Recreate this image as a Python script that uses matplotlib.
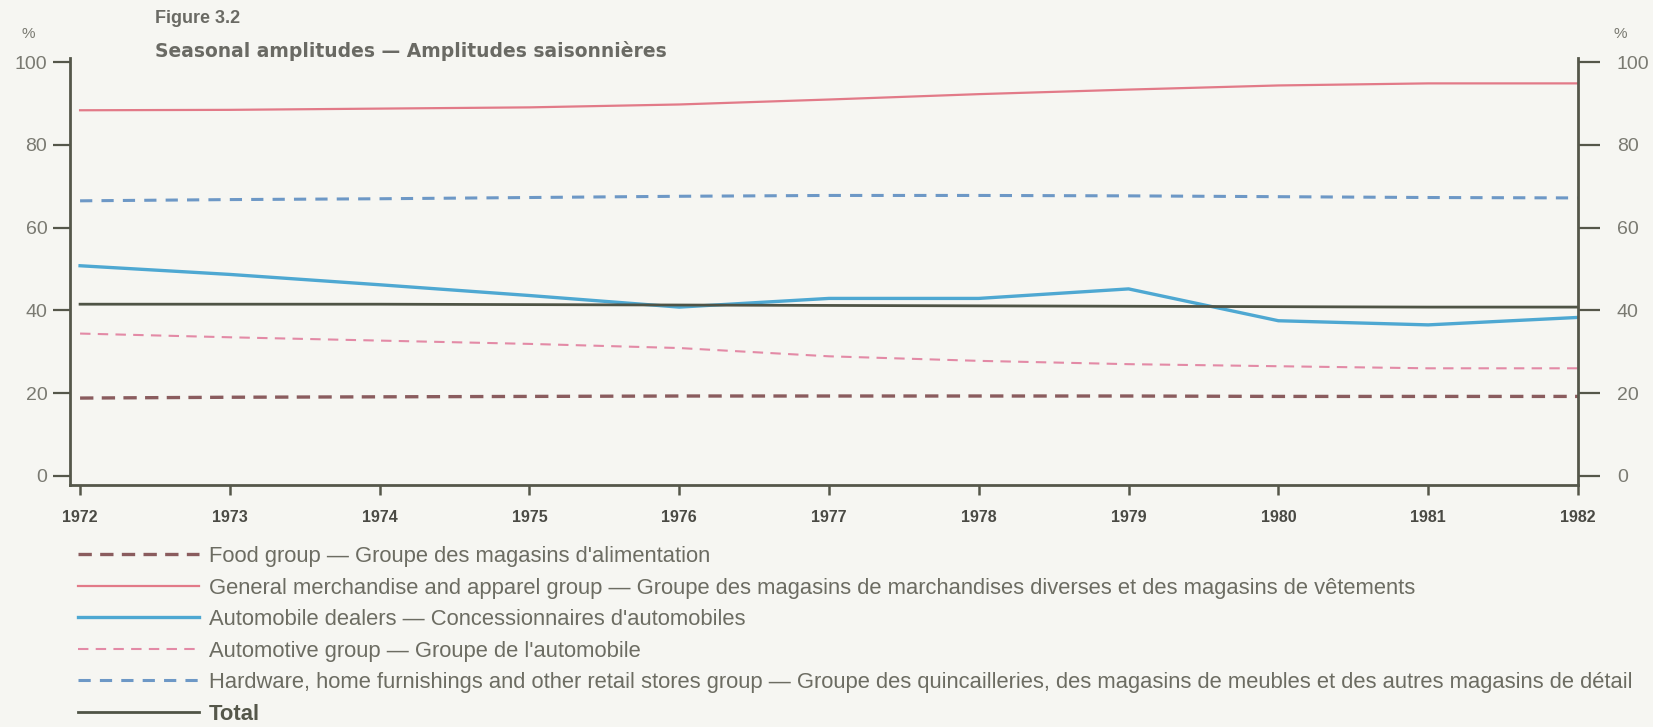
import numpy as np
import matplotlib.pyplot as plt

years = [1972, 1973, 1974, 1975, 1976, 1977, 1978, 1979, 1980, 1981, 1982]

food = [18.8, 19.0, 19.1, 19.2, 19.3, 19.3, 19.3, 19.3, 19.2, 19.2, 19.2]
general = [88.4, 88.5, 88.8, 89.1, 89.8, 91.0, 92.3, 93.4, 94.4, 94.9, 94.9]
auto_dealers = [50.8, 48.7, 46.2, 43.6, 40.8, 42.9, 42.9, 45.2, 37.5, 36.5, 38.3]
automotive = [34.4, 33.5, 32.7, 31.9, 30.9, 28.9, 27.8, 27.0, 26.5, 26.0, 26.0]
hardware = [66.5, 66.8, 67.0, 67.3, 67.6, 67.8, 67.8, 67.7, 67.5, 67.3, 67.2]
total = [41.5, 41.5, 41.5, 41.4, 41.3, 41.2, 41.1, 41.0, 40.9, 40.8, 40.8]

labels = [
    "Food group \u2014 Groupe des magasins d'alimentation",
    "General merchandise and apparel group \u2014 Groupe des magasins de marchandises diverses et des magasins de v\u00eatements",
    "Automobile dealers \u2014 Concessionnaires d'automobiles",
    "Automotive group \u2014 Groupe de l'automobile",
    "Hardware, home furnishings and other retail stores group \u2014 Groupe des quincailleries, des magasins de meubles et des autres magasins de d\u00e9tail",
    "Total",
]

plt.rcParams['font.family'] = ['Liberation Sans', 'DejaVu Sans']
bg = '#f6f6f2'
axc = '#55574a'
txt = '#7a7a72'

fig = plt.figure(figsize=(16.53, 7.27), dpi=100, facecolor=bg)
ax = fig.add_axes([0.0421, 0.333, 0.9125, 0.587])
ax.set_facecolor(bg)

h_food, = ax.plot(years, food, color='#8a5c5e', lw=2.4, ls=(0, (4, 2.5)))
h_gen, = ax.plot(years, general, color='#e27a88', lw=1.6)
h_dealer, = ax.plot(years, auto_dealers, color='#4ea8d2', lw=2.4)
h_auto, = ax.plot(years, automotive, color='#e38aa6', lw=1.5, ls=(0, (5, 3.5)))
h_hard, = ax.plot(years, hardware, color='#6d98c6', lw=2.2, ls=(0, (4, 3)))
h_tot, = ax.plot(years, total, color='#4f5446', lw=2.0)

ax.set_xlim(1971.93, 1982)
ax.set_ylim(-2.2, 101)
ax.set_xticks(years)
ax.set_xticklabels([str(y) for y in years], fontweight='bold', fontsize=11.5, color='#4a4a44')
ax.set_yticks([0, 20, 40, 60, 80, 100])
ax.tick_params(axis='y', length=12, width=1.6, color=axc, labelsize=14, labelcolor=txt, pad=4)
ax.tick_params(axis='x', length=7, width=1.8, color=axc, pad=11)
for s in ['top', 'right']:
    ax.spines[s].set_visible(False)
for s in ['left', 'bottom']:
    ax.spines[s].set_color(axc)
    ax.spines[s].set_linewidth(2.0)

ax2 = ax.twinx()
ax2.set_ylim(ax.get_ylim())
ax2.set_yticks([0, 20, 40, 60, 80, 100])
ax2.tick_params(axis='y', length=16, width=1.6, color=axc, labelsize=14, labelcolor=txt, pad=12)
for s in ['top', 'left', 'bottom']:
    ax2.spines[s].set_visible(False)
ax2.spines['right'].set_color(axc)
ax2.spines['right'].set_linewidth(2.0)

fig.text(0.013, 0.948, '%', fontsize=11, color=txt)
fig.text(0.984, 0.948, '%', fontsize=11, color=txt, ha='right')
fig.text(0.0935, 0.968, 'Figure 3.2', fontsize=13, fontweight='bold', color='#6a6a64')
fig.text(0.0935, 0.921, 'Seasonal amplitudes \u2014 Amplitudes saisonni\u00e8res', fontsize=13.5,
         fontweight='bold', color='#6a6a64', family='DejaVu Sans')

leg = fig.legend([h_food, h_gen, h_dealer, h_auto, h_hard, h_tot], labels,
                 loc='upper left', bbox_to_anchor=(0.042, 0.261), frameon=False,
                 fontsize=15.8, handlelength=5.5, handletextpad=0.45, labelspacing=0.48,
                 borderaxespad=0)
for t in leg.get_texts():
    t.set_color('#6c6c62')
leg.get_texts()[-1].set_fontweight('bold')
leg.get_texts()[-1].set_color('#55574a')

fig.savefig('out.png', dpi=100, facecolor=bg)
